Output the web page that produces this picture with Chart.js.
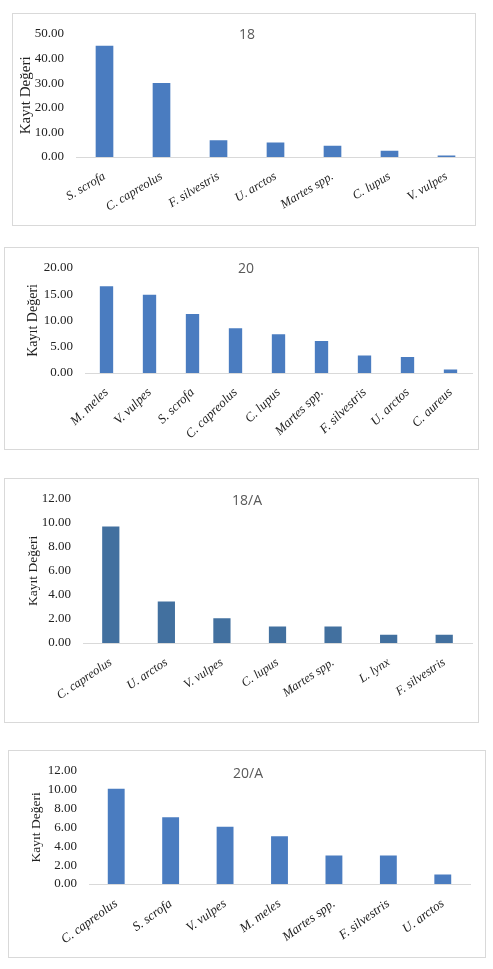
<!DOCTYPE html>
<html>
<head>
<meta charset="utf-8">
<script src="https://cdn.jsdelivr.net/npm/chart.js@4/dist/chart.umd.min.js"></script>
<style>
  body { margin: 0; background: #fff; }
  .kutu { position: absolute; border: 1px solid #d9d9d9; box-sizing: border-box; }
  canvas { display: block; }
</style>
</head>
<body>
<div class="kutu" id="k1" style="left:12px;top:13px;width:464px;height:213px"><canvas id="g1"></canvas></div>
<div class="kutu" id="k2" style="left:4px;top:247px;width:475px;height:203px"><canvas id="g2"></canvas></div>
<div class="kutu" id="k3" style="left:4px;top:478px;width:475px;height:245px"><canvas id="g3"></canvas></div>
<div class="kutu" id="k4" style="left:8px;top:750px;width:478px;height:208px"><canvas id="g4"></canvas></div>

<script>
// 18
const turler18 = ["S. scrofa", "C. capreolus", "F. silvestris", "U. arctos", "Martes spp.", "C. lupus", "V. vulpes"];
const degerler18 = [45.2, 30.0, 6.8, 5.9, 4.6, 2.5, 0.6];

// 20
const turler20 = ["M. meles", "V. vulpes", "S. scrofa", "C. capreolus", "C. lupus", "Martes spp.", "F. silvestris", "U. arctos", "C. aureus"];
const degerler20 = [16.5, 14.9, 11.2, 8.5, 7.35, 6.1, 3.35, 3.06, 0.65];

// 18/A
const turler18A = ["C. capreolus", "U. arctos", "V. vulpes", "C. lupus", "Martes spp.", "L. lynx", "F. silvestris"];
const degerler18A = [9.69, 3.45, 2.07, 1.38, 1.38, 0.69, 0.69];

// 20/A
const turler20A = ["C. capreolus", "S. scrofa", "V. vulpes", "M. meles", "Martes spp.", "F. silvestris", "U. arctos"];
const degerler20A = [10.1, 7.07, 6.06, 5.05, 3.03, 3.03, 1.01];

const eksenMax = [50, 20, 12, 12];
const eksenAdim = [10, 5, 2, 2];

const serif = "'Liberation Serif', 'Times New Roman', serif";

// baslik yazisini grafik alaninin icine cizen kucuk eklenti
const baslikEklentisi = {
  id: "baslik",
  afterDraw(chart, args, opts) {
    const ctx = chart.ctx;
    ctx.save();
    ctx.font = "14px 'Open Sans'";
    ctx.fillStyle = "#595959";
    ctx.textAlign = "center";
    ctx.textBaseline = "middle";
    ctx.fillText(opts.yazi, opts.x, opts.y);
    ctx.restore();
  }
};

function grafikCiz(id, turler, degerler, ymax, adim, ayar) {
  const ctx = document.querySelector(id).getContext("2d");
  return new Chart(ctx, {
    type: "bar",
    data: {
      labels: turler,
      datasets: [{
        data: degerler,
        backgroundColor: ayar.renk,
        borderWidth: 0,
        barPercentage: 0.31,
        categoryPercentage: 1
      }]
    },
    options: {
      responsive: true,
      maintainAspectRatio: false,
      animation: false,
      layout: { padding: { top: ayar.ust, left: ayar.sol, right: ayar.sag, bottom: 0 } },
      plugins: {
        legend: { display: false },
        tooltip: { enabled: false },
        baslik: { yazi: ayar.baslik, x: ayar.bx, y: ayar.by }
      },
      scales: {
        x: {
          grid: { display: false, drawTicks: false },
          border: { display: true, color: "#d9d9d9", width: 1 },
          ticks: {
            color: "#222",
            font: { family: serif, size: ayar.xFont, style: "italic" },
            minRotation: ayar.donus,
            maxRotation: ayar.donus,
            padding: 12,
            autoSkip: false
          },
          afterFit(scale) { scale.height = ayar.xYukseklik; }
        },
        y: {
          min: 0,
          max: ymax,
          grid: { display: false, drawTicks: false },
          border: { display: false },
          ticks: {
            stepSize: adim,
            autoSkip: false,
            color: "#222",
            font: { family: serif, size: 13 },
            padding: 12,
            callback: (v) => v.toFixed(2)
          },
          title: {
            display: true,
            text: "Kayıt Değeri",
            color: "#222",
            font: { family: serif, size: ayar.yBaslikFont },
            padding: { top: 4, bottom: 4 }
          },
          afterFit(scale) { scale.width = ayar.yGenislik; }
        }
      }
    },
    plugins: [baslikEklentisi]
  });
}

grafikCiz("#g1", turler18, degerler18, eksenMax[0], eksenAdim[0], {
  renk: "#4a7cc0", baslik: "18", bx: 234, by: 21,
  ust: 9, sol: 0, sag: 0, yGenislik: 63, xYukseklik: 68,
  donus: 31, xFont: 12.5, yBaslikFont: 15
});
grafikCiz("#g2", turler20, degerler20, eksenMax[1], eksenAdim[1], {
  renk: "#4a7cc0", baslik: "20", bx: 241, by: 21,
  ust: 12, sol: 16, sag: 6, yGenislik: 64, xYukseklik: 76,
  donus: 44, xFont: 13, yBaslikFont: 14
});
grafikCiz("#g3", turler18A, degerler18A, eksenMax[2], eksenAdim[2], {
  renk: "#42709f", baslik: "18/A", bx: 242, by: 22,
  ust: 12, sol: 16, sag: 6, yGenislik: 62, xYukseklik: 79,
  donus: 34, xFont: 12.5, yBaslikFont: 13.5
});
grafikCiz("#g4", turler20A, degerler20A, eksenMax[3], eksenAdim[3], {
  renk: "#4a7cc0", baslik: "20/A", bx: 239, by: 23,
  ust: 7, sol: 15, sag: 15, yGenislik: 65, xYukseklik: 73,
  donus: 36, xFont: 13, yBaslikFont: 13.5
});
</script>
</body>
</html>
